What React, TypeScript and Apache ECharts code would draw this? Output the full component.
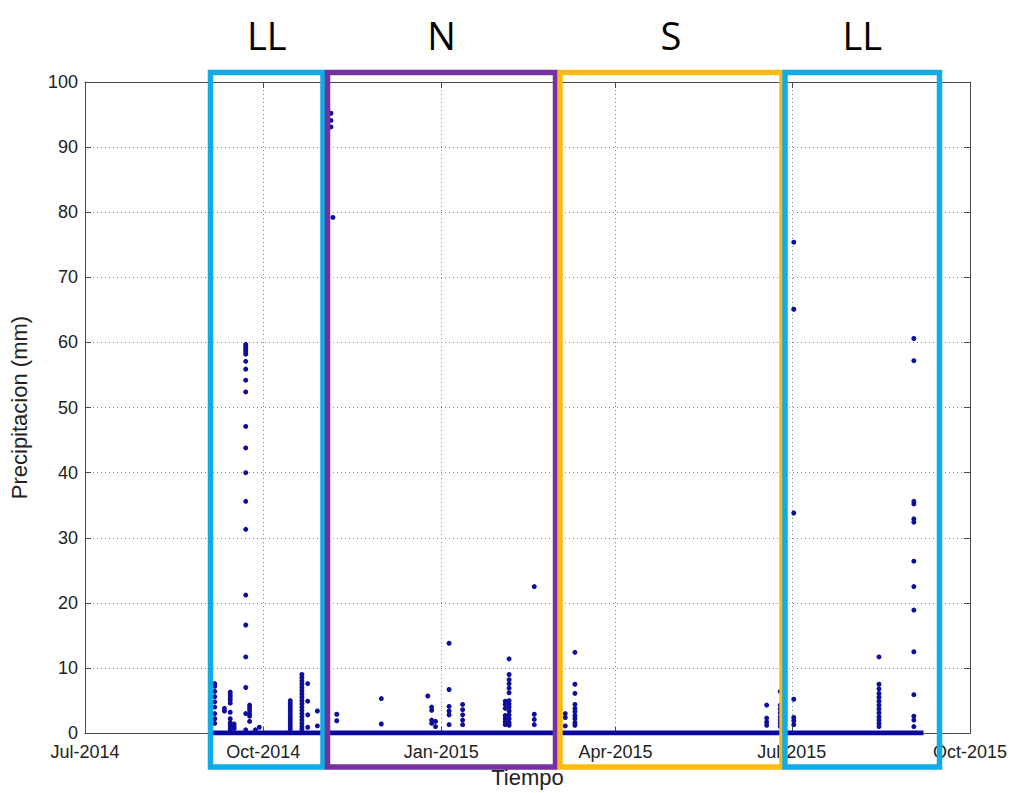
import React, { useEffect, useRef } from 'react';
import * as echarts from 'echarts';

// Axis ticks (quarter starts) and their labels
const tickDates = ['2014-07-01', '2014-10-01', '2015-01-01', '2015-04-01', '2015-07-01', '2015-10-01'];
const tickLabels = ['Jul-2014', 'Oct-2014', 'Jan-2015', 'Apr-2015', 'Jul-2015', 'Oct-2015'];
const yMin = 0;
const yMax = 100;
const yInterval = 10;

// Continuous run of zero-precipitation records
const baselineStart = '2014-09-03';
const baselineEnd = '2015-09-07';

// Rain events: date and the recorded values on that date (mm)
const eventDates = [
  '2014-09-06', '2014-09-11', '2014-09-14', '2014-09-16', '2014-09-22', '2014-09-24',
  '2014-09-27', '2014-09-29', '2014-10-15', '2014-10-21', '2014-10-24', '2014-10-29',
  '2014-11-05', '2014-11-06', '2014-11-08', '2014-12-01', '2014-12-25', '2014-12-27',
  '2014-12-29', '2015-01-05', '2015-01-12', '2015-02-03', '2015-02-05', '2015-02-18',
  '2015-03-06', '2015-03-11', '2015-06-18', '2015-06-25', '2015-06-27', '2015-07-02',
  '2015-08-15', '2015-09-02',
];
const eventValues: number[][] = [
  [7.6, 7.2, 6.4, 5.6, 4.8, 4.0, 3.0, 2.2, 1.5],
  [3.8, 3.4],
  [6.3, 5.9, 5.5, 5.1, 4.6, 3.2, 2.2, 1.6, 1.2, 0.8, 0.5],
  [1.4, 1.0, 0.7],
  [59.7, 59.4, 59.1, 58.8, 58.5, 58.2, 57.1, 55.9, 54.2, 52.4, 47.1, 43.8, 40.0, 35.6, 31.3, 21.2, 16.6, 11.7, 7.0, 3.0, 0.5],
  [4.3, 3.9, 3.5, 3.0, 2.6, 1.8],
  [0.5],
  [0.9],
  [5.0, 4.6, 4.2, 3.8, 3.4, 3.0, 2.6, 2.2, 1.8, 1.4, 1.0, 0.6],
  [9.0, 8.5, 8.0, 7.5, 7.0, 6.5, 6.0, 5.5, 5.0, 4.5, 4.0, 3.5, 3.0, 2.5, 2.0, 1.5, 1.0, 0.6],
  [7.6, 4.9, 2.8, 0.9],
  [3.4, 1.1],
  [95.2, 94.1, 93.1],
  [79.2],
  [2.9, 1.9],
  [5.3, 1.4],
  [5.7],
  [4.0, 3.5, 2.0, 1.5],
  [1.8, 1.0],
  [13.8, 6.7, 4.1, 3.4, 2.8, 1.3],
  [4.4, 3.6, 2.8, 2.0, 1.3],
  [4.9, 4.4, 3.8, 2.7, 2.2, 1.7, 1.3],
  [11.4, 9.0, 8.2, 7.6, 6.9, 6.2, 5.0, 4.5, 4.0, 3.4, 2.8, 2.2, 1.6, 1.2],
  [22.5, 2.9, 2.1, 1.3],
  [3.0, 2.4, 1.1],
  [12.4, 7.5, 6.1, 4.4, 3.8, 3.3, 2.7, 2.2, 1.6, 1.2],
  [4.3, 2.3, 1.7, 1.2],
  [6.4, 4.3, 3.7, 3.1, 2.5, 2.0, 1.5, 1.0],
  [2.4, 1.8, 1.3],
  [75.4, 65.1, 33.8, 5.2, 2.4, 1.9, 1.3],
  [11.7, 7.5, 6.8, 6.1, 5.5, 4.9, 4.3, 3.7, 3.1, 2.5, 2.0, 1.5, 1.0],
  [60.6, 57.2, 35.6, 35.2, 32.9, 32.4, 26.4, 22.5, 18.9, 12.5, 5.9, 2.6, 2.0, 1.0],
];

// Season annotation boxes
const seasonLabels = ['LL', 'N', 'S', 'LL'];
const seasonColors = ['#10ACE6', '#7332A0', '#FBBA12', '#10ACE6'];

const toTime = (d: string) => echarts.time.parse(d).getTime();

export default function App() {
  const ref = useRef<HTMLDivElement>(null);

  useEffect(() => {
    if (!ref.current) return;
    const chart = echarts.init(ref.current, undefined, { renderer: 'svg' });

    const scatterData: [number, number][] = [];
    eventDates.forEach((d, i) => {
      eventValues[i].forEach((v) => scatterData.push([toTime(d), v]));
    });

    const tickTimes = tickDates.map(toTime);
    const fmt = (v: number) => {
      let best = 0;
      for (let i = 1; i < tickTimes.length; i++) {
        if (Math.abs(tickTimes[i] - v) < Math.abs(tickTimes[best] - v)) best = i;
      }
      return tickLabels[best];
    };

    const font = 'Liberation Sans, Arial, Helvetica, sans-serif';
    const axisColor = '#4a4a4a';

    // box geometry (pixels) for the season annotations
    const boxes = [
      { x1: 210.5, x2: 323 },
      { x1: 327.5, x2: 555.5 },
      { x1: 560, x2: 782 },
      { x1: 785, x2: 939.5 },
    ];
    const boxTop = 72.5;
    const boxBottom = 767;

    const graphic: any[] = [];
    boxes.forEach((b, i) => {
      graphic.push({
        type: 'rect',
        z: 100,
        silent: true,
        shape: { x: b.x1, y: boxTop, width: b.x2 - b.x1, height: boxBottom - boxTop },
        style: { fill: 'none', stroke: seasonColors[i], lineWidth: 5.5 },
      });
      graphic.push({
        type: 'text',
        z: 100,
        x: (b.x1 + b.x2) / 2,
        y: 35,
        style: {
          text: seasonLabels[i],
          fontSize: 38,
          fontFamily: 'Open Sans, sans-serif',
          fill: '#000',
          align: 'center',
          verticalAlign: 'middle',
        },
      });
    });

    const xMin = tickTimes[0];
    const xMax = tickTimes[tickTimes.length - 1];

    const option: any = {
      animation: false,
      backgroundColor: '#fff',
      grid: { left: 85, right: 44, top: 82, bottom: 58 },
      xAxis: [
        {
          type: 'value',
          min: xMin,
          max: xMax,
          position: 'bottom',
          name: 'Tiempo',
          nameLocation: 'middle',
          nameGap: 32,
          nameTextStyle: { fontSize: 22, color: '#222', fontFamily: font },
          axisLine: { show: true, onZero: false, lineStyle: { color: axisColor, width: 1 } },
          axisTick: { show: true, inside: true, length: 6, customValues: tickTimes, lineStyle: { color: axisColor } },
          axisLabel: {
            customValues: tickTimes,
            formatter: fmt,
            fontSize: 18,
            color: '#222',
            fontFamily: font,
            margin: 10,
            hideOverlap: false,
            showMinLabel: true,
            showMaxLabel: true,
          },
          splitLine: { show: true, lineStyle: { type: [1, 3], color: '#888', width: 1 } },
        },
        {
          type: 'value',
          min: xMin,
          max: xMax,
          position: 'top',
          axisLine: { show: true, onZero: false, lineStyle: { color: axisColor, width: 1 } },
          axisTick: { show: true, inside: true, length: 6, customValues: tickTimes, lineStyle: { color: axisColor } },
          axisLabel: { show: false },
          splitLine: { show: false },
        },
      ],
      yAxis: [
        {
          type: 'value',
          min: yMin,
          max: yMax,
          interval: yInterval,
          position: 'left',
          name: 'Precipitacion (mm)',
          nameLocation: 'middle',
          nameGap: 55,
          nameTextStyle: { fontSize: 22, color: '#222', fontFamily: font },
          axisLine: { show: true, onZero: false, lineStyle: { color: axisColor, width: 1 } },
          axisTick: { show: true, inside: true, length: 6, lineStyle: { color: axisColor } },
          axisLabel: { fontSize: 18, color: '#222', fontFamily: font, margin: 7 },
          splitLine: { show: true, lineStyle: { type: [1, 3], color: '#888', width: 1 } },
        },
        {
          type: 'value',
          min: yMin,
          max: yMax,
          interval: yInterval,
          position: 'right',
          axisLine: { show: true, onZero: false, lineStyle: { color: axisColor, width: 1 } },
          axisTick: { show: true, inside: true, length: 6, lineStyle: { color: axisColor } },
          axisLabel: { show: false },
          splitLine: { show: false },
        },
      ],
      series: [
        {
          type: 'line',
          xAxisIndex: 0,
          yAxisIndex: 0,
          data: [[toTime(baselineStart), 0], [toTime(baselineEnd), 0]],
          symbol: 'none',
          lineStyle: { color: '#0808a0', width: 5 },
          z: 3,
          silent: true,
        },
        {
          type: 'scatter',
          xAxisIndex: 0,
          yAxisIndex: 0,
          data: scatterData,
          symbolSize: 5,
          itemStyle: { color: '#0e0e9c', opacity: 1 },
          z: 4,
          silent: true,
        },
      ],
      graphic,
    };

    chart.setOption(option);
    return () => chart.dispose();
  }, []);

  return (
    <div
      ref={ref}
      style={{ position: 'absolute', left: 0, top: 0, width: 1014, height: 793, background: '#fff' }}
    />
  );
}
